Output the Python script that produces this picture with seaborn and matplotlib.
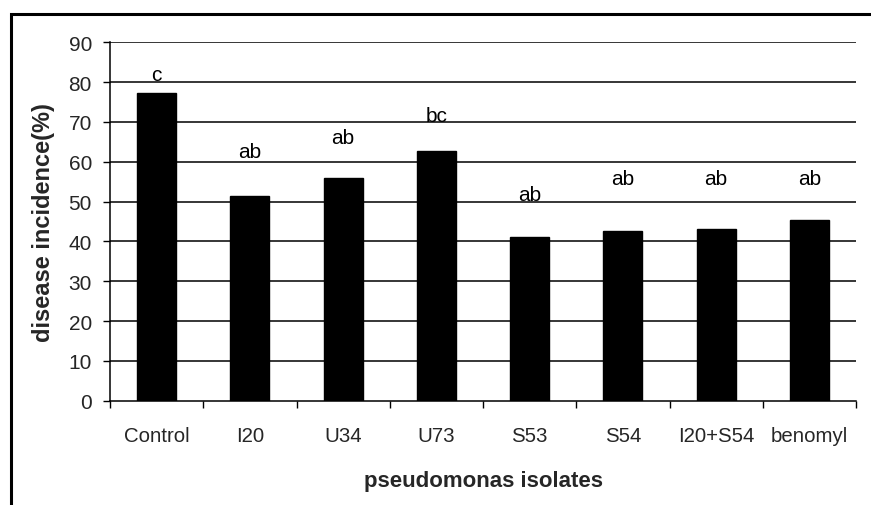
import matplotlib
matplotlib.use("Agg")
import matplotlib.pyplot as plt
import seaborn as sns
import pandas as pd
from matplotlib.patches import Rectangle

categories = ["Control", "I20", "U34", "U73", "S53", "S54", "I20+S54", "benomyl"]
incidence = [77.2, 51.3, 55.9, 62.6, 41.2, 42.7, 43.1, 45.4]
letters = ["c", "ab", "ab", "bc", "ab", "ab", "ab", "ab"]
letter_y = [82.0, 62.5, 66.2, 71.5, 51.9, 55.7, 55.7, 55.7]
y_ticks = [0, 10, 20, 30, 40, 50, 60, 70, 80, 90]

sns.set_theme(style="white")
plt.rcParams['font.family'] = ['Liberation Sans', 'DejaVu Sans']

df = pd.DataFrame({"isolate": categories, "incidence": incidence})

fig = plt.figure(figsize=(8.71, 5.06), dpi=100)
ax = fig.add_axes([110/871, 1-401.7/506, (856-110)/871, (401.7-43.3)/506])

# gridlines
for yv in y_ticks[1:]:
    ax.axhline(yv, color="black", lw=1.1, zorder=0)

sns.barplot(data=df, x="isolate", y="incidence", color="black", width=0.42,
            saturation=1, ax=ax, zorder=2, edgecolor="black")

for i, (lab, ly) in enumerate(zip(letters, letter_y)):
    ax.text(i, ly, lab, ha="center", va="center", fontsize=15, color="black")

ax.set_ylim(0, 90)
ax.set_xlim(-0.5, len(categories) - 0.5)
ax.set_yticks(y_ticks)
ax.set_yticklabels([str(v) for v in y_ticks], fontsize=15)
ax.set_xticks(range(len(categories)))
ax.set_xticklabels(categories, fontsize=14.7)
ax.set_xticks([i - 0.5 for i in range(len(categories) + 1)], minor=True)
ax.tick_params(axis="x", which="major", length=0, pad=18)
ax.tick_params(axis="x", which="minor", length=5, width=1, color="black", direction="out", bottom=True)
ax.tick_params(axis="y", which="major", length=5, width=1, color="black", direction="out", left=True, pad=8)

for s in ["top", "right"]:
    ax.spines[s].set_visible(False)
for s in ["left", "bottom"]:
    ax.spines[s].set_color("black")
    ax.spines[s].set_linewidth(1.1)

ax.set_xlabel("pseudomonas isolates", fontsize=16, fontweight="bold")
ax.set_ylabel("disease incidence(%)", fontsize=17, fontweight="bold")
ax.xaxis.set_label_coords(0.5, -0.192)
ax.yaxis.set_label_coords(-0.0737, 0.5)

# outer frame (extends beyond image right/bottom)
fig.patches.append(Rectangle((11/871, -0.1), 1.2, 1-15/506+0.1, transform=fig.transFigure,
                             fill=False, edgecolor="black", lw=2.2, zorder=10))

fig.savefig("out.png", dpi=100)
